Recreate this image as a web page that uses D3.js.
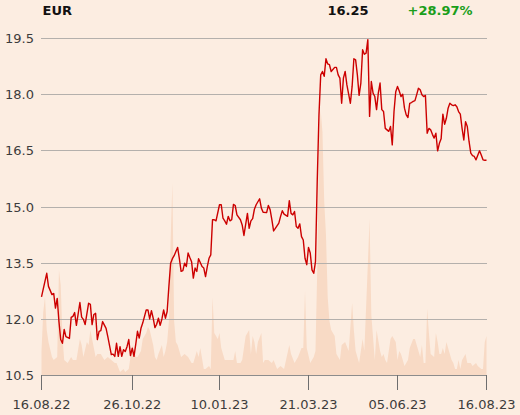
<!DOCTYPE html>
<html><head><meta charset="utf-8">
<script src="https://cdn.jsdelivr.net/npm/d3@7"></script>
<style>
html,body{margin:0;padding:0;background:#fcede1;}
svg{display:block;font-family:"DejaVu Sans",sans-serif;}
</style></head>
<body>
<svg id="chart" width="520" height="415"></svg>
<script>
// ---- data (trading-day index, price EUR) ----
const days = [0,3,4,6,7,8,9,10,11,12,13,14,16,17,18,19,20,22,23,24,25,27,28,29,30,31,32,33,34,35,37,38,40,41,42,
43,44,45,46,47,48,49,50,51,52,53,54,55,56,57,58,60,61,62,63,64,65,66,67,68,69,70,71,72,73,74,75,76,77,78,79,80,81,82,83,84,85,
86,87,88,89,90,92,93,94,95,96,97,98,99,100,102,103,104,105,106,107,108,109,110,111,112,114,115,116,118,119,120,121,122,123,125,126,127,
129,130,131,132,133,134,136,137,138,139,141,142,143,144,145,146,147,148,149,150,151,152,153,154,155,156,157,158,159,160,161,162,163,164,165,166,168,169,170,
171,172,173,174,175,177,178,179,180,181,182,183,184,185,186,187,188,189,190,191,192,193,194,195,196,197,198,199,200,201,202,203,204,205,206,207,208,209,210,211,212,213,
214,215,216,217,218,219,220,221,222,223,224,225,226,227,228,229,230,231,232,233,234,235,236,237,238,239,240,241,242,243,244,245,246,247,248,249,250,251,252,253,254,255];
const prices = [12.60,13.23,12.88,12.66,12.69,12.30,12.56,11.94,11.46,11.36,11.73,11.54,11.49,12.05,12.08,12.18,11.84,12.45,12.06,12.00,11.86,12.43,12.40,11.86,12.13,12.16,11.46,11.68,11.70,11.94,11.76,11.54,11.06,11.07,11.01,
11.36,11.01,11.27,11.01,11.19,11.14,11.27,11.46,11.03,11.23,11.01,11.33,11.68,11.50,11.76,11.90,12.25,12.25,12.01,12.23,12.03,11.78,11.87,12.03,11.84,12.01,12.25,12.03,12.21,12.88,13.50,13.62,13.70,13.81,13.92,13.62,13.28,13.30,13.50,13.41,13.77,13.65,
13.54,13.10,13.37,13.28,13.62,13.41,13.37,13.14,13.41,13.63,13.72,14.66,14.66,14.63,15.06,15.06,14.70,14.63,14.54,14.75,14.63,14.66,15.07,15.04,14.79,14.66,14.52,14.24,14.83,14.43,14.63,14.69,14.94,15.06,15.22,14.97,14.86,
14.85,15.04,14.93,14.66,14.36,14.43,14.57,14.75,14.90,14.81,14.75,15.17,14.83,14.79,14.88,14.48,14.43,14.55,14.21,14.12,13.63,13.46,13.92,13.77,13.32,13.23,13.54,15.68,17.46,18.53,18.62,18.49,18.96,18.82,18.80,18.62,18.73,18.73,18.53,
18.44,17.77,18.44,18.62,18.26,17.77,18.22,18.96,18.93,18.53,17.98,18.31,19.20,19.08,19.11,19.47,17.42,18.35,18.04,17.95,17.60,18.04,18.31,17.60,17.55,17.10,17.06,17.02,17.15,16.66,17.55,18.08,18.22,18.10,17.95,18.01,17.64,17.46,17.39,17.77,17.79,17.82,
17.84,18.00,18.17,18.13,18.00,17.95,17.98,16.97,17.10,17.06,16.94,16.84,16.97,16.50,16.70,16.82,17.48,17.21,17.37,17.64,17.77,17.73,17.71,17.73,17.68,17.55,17.48,17.10,16.79,17.28,17.15,16.75,16.44,16.37,16.35,16.26,16.38,16.50,16.39,16.26,16.25,16.25];

// ---- volume (trading-day index, relative volume) ----
const volDays = [0,1,2,3,4,6,7,9,10,11,12,13,15,17,18,20,22,23,24,26,27,28,30,31,32,34,36,38,40,42,43,45,47,48,50,51,52,54,55,57,58,60,61,62,64,65,66,67,69,70,71,72,73,74,75,76,77,78,80,82,84,86,87,89,90,91,93,94,96,97,
98,99,101,102,103,105,106,108,110,111,112,114,115,116,117,119,120,121,122,123,124,126,127,128,130,132,133,135,137,139,142,143,145,147,149,150,151,152,154,156,157,158,159,160,161,162,163,164,165,166,168,169,171,172,174,176,178,179,180,182,184,185,187,188,189,
191,192,194,195,196,197,198,200,201,203,204,205,206,208,210,211,213,214,215,217,218,219,220,221,222,223,225,226,227,228,229,230,231,232,234,235,236,237,238,239,240,241,243,244,246,247,249,250,252,253,254,255];
const volumes = [8,21,26,15,11,6,5,6,35,30,13,5,4,6,5,5,12,10,6,11,10,15,9,6,7,7,5,6,5,4,4,1,2,1,2,6,10,6,6,8,12,14,16,15,10,6,5,7,10,6,8,11,18,45,64,18,11,10,6,7,6,4,4,8,6,9,2,2,3,2,
26,14,12,14,9,5,5,5,5,8,4,4,5,9,13,15,7,13,11,7,11,14,4,5,5,4,5,2,3,2,10,7,4,6,9,9,28,9,4,6,8,35,76,88,81,58,47,26,18,15,13,7,5,10,11,8,24,15,8,4,12,8,37,52,20,
5,15,8,6,7,5,4,12,13,11,5,8,7,3,5,9,12,12,10,6,10,4,4,22,14,7,6,14,11,7,7,9,7,11,7,5,4,2,2,5,2,5,7,4,4,3,4,3,2,2,11,13];

const yTicks = [10.5, 12.0, 13.5, 15.0, 16.5, 18.0, 19.5];
const xTickDays = [0, 52, 102, 153, 204, 255];
const xTickLabels = ["16.08.22", "26.10.22", "10.01.23", "21.03.23", "05.06.23", "16.08.23"];
const currency = "EUR";
const lastPrice = "16.25";
const changePct = "+28.97%";

// ---- drawing ----
const svg = d3.select("#chart");
const x = d3.scaleLinear().domain([0, 255]).range([41.5, 486.5]);
const y = d3.scaleLinear().domain([10.5, 19.5]).range([375.5, 38.5]);
const yv = d3.scaleLinear().domain([0, 100]).range([375, 75]);

const vol = volDays.map((d, i) => ({t: d, v: volumes[i]}));
const px = days.map((d, i) => ({t: d, p: prices[i]}));

svg.append("path")
  .datum(vol)
  .attr("fill", "#f8dac5")
  .attr("d", d3.area().x(d => x(d.t)).y0(yv(0)).y1(d => yv(d.v)));

// gridlines
svg.append("g").selectAll("line").data(yTicks).join("line")
  .attr("x1", 41).attr("x2", 487)
  .attr("y1", d => Math.floor(y(d)) + 0.5).attr("y2", d => Math.floor(y(d)) + 0.5)
  .attr("stroke", d => d === 10.5 ? "#8c8c8c" : "#b4b0ac").attr("stroke-width", 1);

// y labels
svg.append("g").selectAll("text").data(yTicks).join("text")
  .attr("x", 34).attr("y", d => Math.floor(y(d)) + 0.5)
  .attr("dy", "0.36em")
  .attr("text-anchor", "end")
  .attr("font-size", 13).attr("fill", "#3c3c3c")
  .text(d => d3.format(".1f")(d));

// x ticks
const xt = svg.append("g");
xt.selectAll("line").data(xTickDays).join("line")
  .attr("x1", d => Math.round(x(d) - 0.5) + 0.5).attr("x2", d => Math.round(x(d) - 0.5) + 0.5)
  .attr("y1", 375).attr("y2", 390)
  .attr("stroke", "#6e6e6e").attr("stroke-width", 1);
xt.selectAll("text").data(xTickDays).join("text")
  .attr("x", d => x(d)).attr("y", 409)
  .attr("text-anchor", "middle")
  .attr("font-size", 13).attr("fill", "#3c3c3c")
  .text((d, i) => xTickLabels[i]);

// price line
svg.append("path")
  .datum(px)
  .attr("fill", "none")
  .attr("stroke", "#cc0000")
  .attr("stroke-width", 1.4)
  .attr("stroke-linejoin", "round")
  .attr("d", d3.line().x(d => x(d.t)).y(d => y(d.p)));

// header
svg.append("text").attr("x", 42.5).attr("y", 14.5)
  .attr("font-size", 13).attr("font-weight", "bold").attr("fill", "#111")
  .text(currency);
svg.append("text").attr("x", 327.5).attr("y", 14.5)
  .attr("font-size", 13).attr("font-weight", "bold").attr("fill", "#111")
  .text(lastPrice);
svg.append("text").attr("x", 407.5).attr("y", 14.5)
  .attr("font-size", 13).attr("font-weight", "bold").attr("fill", "#1a9e1a")
  .text(changePct);
</script>
</body></html>
